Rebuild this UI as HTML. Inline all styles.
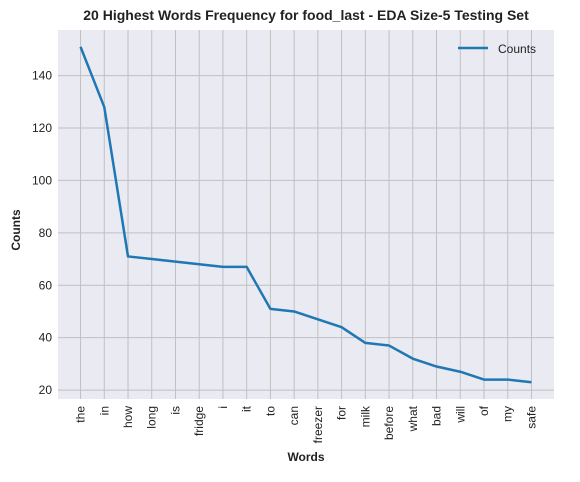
<!DOCTYPE html>
<html><head><meta charset="utf-8"><style>
body{margin:0;background:#fff;font-family:"Liberation Sans",sans-serif}
svg text{font-family:"Liberation Sans",sans-serif}
</style></head><body>
<svg id="chart" width="580" height="477">
<text x="306" y="20" text-anchor="middle" font-size="14" font-weight="bold" fill="#222">20 Highest Words Frequency for food_last - EDA Size-5 Testing Set</text>
<rect x="58" y="30" width="496" height="369" fill="#eaeaf2"/>
<g id="grid"></g><g id="ticks"></g>
<path id="line" fill="none" stroke="#1f77b4" stroke-width="2.5" stroke-linejoin="round"/>
<text x="0" y="0" transform="translate(20,230) rotate(-90)" text-anchor="middle" font-size="12" font-weight="bold" fill="#222">Counts</text>
<text x="306" y="461" text-anchor="middle" font-size="12" font-weight="bold" fill="#222">Words</text>
<g>
<line x1="458" y1="48" x2="488" y2="48" stroke="#1f77b4" stroke-width="2.5"/>
<text x="498" y="53" font-size="12" fill="#222">Counts</text>
</g>
</svg>
<script>
const words=["the","in","how","long","is","fridge","i","it","to","can","freezer","for","milk","before","what","bad","will","of","my","safe"];
const counts=[151,128,71,70,69,68,67,67,51,50,47,44,38,37,32,29,27,24,24,23];
const yTicks=[20,40,60,80,100,120,140];
const L=58,R=554,T=30,B=399,NS="http://www.w3.org/2000/svg";
const mn=Math.min(...counts),mx=Math.max(...counts),pad=(mx-mn)*0.05;
const y0=mn-pad,y1=mx+pad,n=words.length;
const xs=i=>L+(i+0.95)/(n-1+1.9)*(R-L);
const ys=v=>B-(v-y0)/(y1-y0)*(B-T);
const g=document.getElementById('grid'),tk=document.getElementById('ticks');
function mk(tag,a,p){const e=document.createElementNS(NS,tag);for(const k in a)e.setAttribute(k,a[k]);p.appendChild(e);return e;}
words.forEach((w,i)=>{
 const l=mk('line',{x1:xs(i),x2:xs(i),y1:T,y2:B,stroke:'#c0c0c0','stroke-width':1},g);
 
 
 const t=mk('text',{transform:`translate(${xs(i)+4},406) rotate(-90)`,'text-anchor':'end','font-size':12,fill:'#222'},tk);
 t.textContent=w;
 
 
});
yTicks.forEach(v=>{
 const l=mk('line',{x1:L,x2:R,y1:ys(v),y2:ys(v),stroke:'#c0c0c0','stroke-width':1},g);
 
 
 const t=mk('text',{x:L-6,y:ys(v)+4,'text-anchor':'end','font-size':12,fill:'#222'},tk);
 t.textContent=v;
 
 
});
document.getElementById('line').setAttribute('d',counts.map((c,i)=>(i?'L':'M')+xs(i)+','+ys(c)).join(''));
</script>
</body></html>
